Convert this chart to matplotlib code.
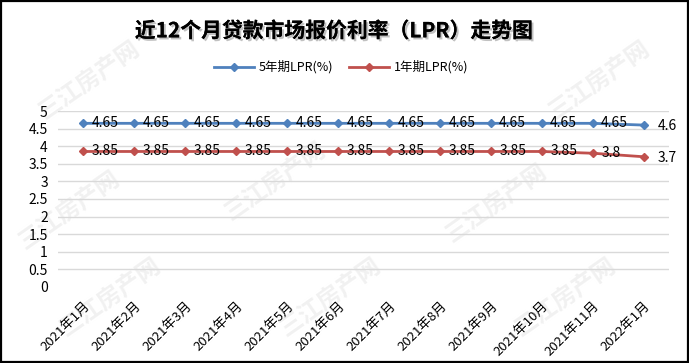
import matplotlib
matplotlib.use("Agg")
import matplotlib.pyplot as plt
import matplotlib.patheffects as pe
from matplotlib.patches import Rectangle
from matplotlib.legend_handler import HandlerLine2D

plt.rcParams['font.family'] = ['Noto Sans CJK SC', 'DejaVu Sans']

categories = ["2021年1月", "2021年2月", "2021年3月", "2021年4月", "2021年5月", "2021年6月",
              "2021年7月", "2021年8月", "2021年9月", "2021年10月", "2021年11月", "2022年1月"]
lpr5 = [4.65, 4.65, 4.65, 4.65, 4.65, 4.65, 4.65, 4.65, 4.65, 4.65, 4.65, 4.6]
lpr1 = [3.85, 3.85, 3.85, 3.85, 3.85, 3.85, 3.85, 3.85, 3.85, 3.85, 3.8, 3.7]
series_names = ["5年期LPR(%)", "1年期LPR(%)"]
title = "近12个月贷款市场报价利率（LPR）走势图"
yticks = [0, 0.5, 1, 1.5, 2, 2.5, 3, 3.5, 4, 4.5, 5]
watermark = "三江房产网"

blue = "#4F81BD"
red = "#C0504D"


class LeftMarkerHandler(HandlerLine2D):
    def get_xdata(self, legend, xdescent, ydescent, width, height, fontsize):
        xdata, _ = super().get_xdata(legend, xdescent, ydescent, width, height, fontsize)
        return xdata, [-xdescent + 1]


fig = plt.figure(figsize=(6.89, 3.63), dpi=100)
fig.patch.set_facecolor("white")

# faint watermark, kept well inside the figure
wm_pos = [(0.13, 0.78), (0.87, 0.78),
          (0.10, 0.42), (0.40, 0.50), (0.72, 0.44),
          (0.16, 0.18), (0.48, 0.18), (0.82, 0.18)]
for (wx, wy) in wm_pos:
    fig.text(wx, wy, watermark, fontsize=17, color="#f1f1f1", rotation=35,
             ha="center", va="center", zorder=-5, fontweight="bold")

ax = fig.add_axes([0.0835, 0.2094, 0.888, 0.4848])
ax.set_facecolor("none")
x = list(range(len(categories)))
ax.plot(x, lpr5, color=blue, lw=2.0, marker="D", ms=4.5, label=series_names[0], zorder=3)
ax.plot(x, lpr1, color=red, lw=2.0, marker="D", ms=4.5, label=series_names[1], zorder=3)

for series in (lpr5, lpr1):
    for i, v in enumerate(series):
        last = i == len(series) - 1
        ax.annotate(f"{v:g}", (i, v), xytext=(10 if last else 6, -1 if last else 0),
                    textcoords="offset points", ha="left", va="center", fontsize=10,
                    color="black", zorder=4)

ax.set_xlim(-0.5, len(categories) - 0.5)
ax.set_ylim(0, 5)
ax.set_yticks(yticks)
ax.set_yticklabels([f"{t:g}" for t in yticks], fontsize=10)
ax.set_xticks(x)
ax.set_xticklabels(categories, rotation=45, ha="right", va="top",
                   rotation_mode="anchor", fontsize=9.5)
ax.tick_params(axis="both", length=0)
ax.tick_params(axis="y", pad=7)
ax.tick_params(axis="x", pad=9)
for s in ax.spines.values():
    s.set_visible(False)
ax.grid(axis="y", color="#d9d9d9", lw=1.0)
ax.set_axisbelow(True)
ax.get_ygridlines()[0].set_visible(False)

t = fig.text(0.485, 0.915, title, ha="center", va="center", fontsize=15,
             fontweight="bold", color="black")
t.set_path_effects([pe.withSimplePatchShadow(offset=(1.5, -1.5), shadow_rgbFace="#999999", alpha=0.6),
                    pe.Normal()])

handles, labels = ax.get_legend_handles_labels()
leg = fig.legend(handles, labels, loc="center", bbox_to_anchor=(0.495, 0.815), ncol=2,
                 frameon=False, fontsize=9, handlelength=3.2, columnspacing=1.2,
                 handletextpad=0.4, numpoints=1,
                 handler_map={h: LeftMarkerHandler() for h in handles})

fig.add_artist(Rectangle((0.001, 0.002), 0.997, 0.995, transform=fig.transFigure,
                         fill=False, edgecolor="black", lw=1.6, zorder=10))

fig.savefig("out.png", dpi=100)
